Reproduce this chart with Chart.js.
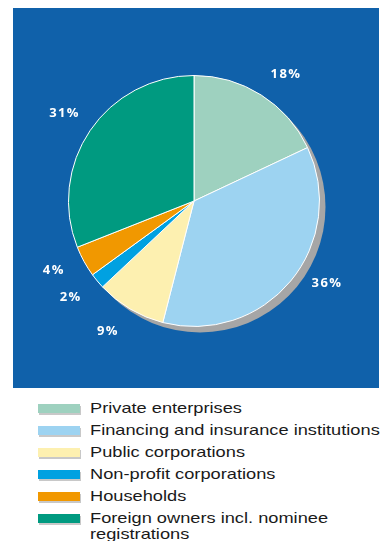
<!DOCTYPE html>
<html>
<head>
<meta charset="utf-8">
<script src="https://cdn.jsdelivr.net/npm/chart.js@4"></script>
<style>
  html, body { margin: 0; padding: 0; background: #fff; }
  body { width: 383px; height: 541px; position: relative; overflow: hidden; }
  #panel {
    position: absolute; left: 13px; top: 8px; width: 366px; height: 380px;
    background: #1061aa;
  }
  #legend {
    position: absolute; left: 38px; top: 400px; margin: 0; padding: 0;
    list-style: none; font-family: "Liberation Sans", Arial, sans-serif;
    font-size: 15px; color: #1a1a1a;
  }
  #legend li { position: relative; height: 22px; }
  #legend .sw {
    position: absolute; left: 0; top: 4px; width: 42px; height: 9px;
    box-shadow: 1px 2px 0 #c8c8c8;
  }
  #legend .txt {
    position: absolute; left: 52px; top: 0; white-space: nowrap;
    line-height: 16px; transform: scaleX(1.215); transform-origin: left top;
  }
</style>
</head>
<body>
<div id="panel"><canvas id="ownerChart" width="366" height="380"></canvas></div>
<ul id="legend"></ul>
<script>
const categories = [
  "Private enterprises",
  "Financing and insurance institutions",
  "Public corporations",
  "Non-profit corporations",
  "Households",
  "Foreign owners incl. nominee\nregistrations",
];
const shares = [18, 36, 9, 2, 4, 31];
const colors = ["#9ed1bf", "#9dd3f1", "#fdf0b0", "#00a1e1", "#f19800", "#009a80"];

// grey drop shadow under the pie
const pieShadow = {
  id: "pieShadow",
  beforeDatasetsDraw(chart) {
    const arc = chart.getDatasetMeta(0).data[0];
    if (!arc) return;
    const ctx = chart.ctx;
    ctx.save();
    ctx.fillStyle = "#a6a6a6";
    ctx.beginPath();
    ctx.arc(arc.x + 6, arc.y + 6, arc.outerRadius, 0, Math.PI * 2);
    ctx.fill();
    ctx.restore();
  },
};

// percent labels outside each slice
const sliceLabels = {
  id: "sliceLabels",
  afterDatasetsDraw(chart, args, opts) {
    const ctx = chart.ctx;
    const meta = chart.getDatasetMeta(0);
    ctx.save();
    ctx.fillStyle = "#fff";
    ctx.font = "700 13px 'Open Sans', sans-serif";
    ctx.letterSpacing = "1.4px";
    ctx.textAlign = "center";
    ctx.textBaseline = "middle";
    meta.data.forEach((arc, i) => {
      const shift = (opts.shift[i] || 0) * Math.PI / 180;
      const a = (arc.startAngle + arc.endAngle) / 2 + shift;
      const r = arc.outerRadius + opts.gap;
      ctx.fillText(shares[i] + "%", arc.x + Math.cos(a) * r, arc.y + Math.sin(a) * r);
    });
    ctx.restore();
  },
};

new Chart(document.getElementById("ownerChart"), {
  type: "pie",
  data: {
    labels: categories,
    datasets: [
      {
        data: shares,
        backgroundColor: colors,
        borderColor: "#fff",
        borderWidth: 1,
      },
    ],
  },
  options: {
    responsive: false,
    animation: false,
    layout: { padding: { left: 55, right: 59, top: 67, bottom: 61 } },
    plugins: {
      legend: { display: false },
      tooltip: { enabled: false },
      sliceLabels: { gap: 31, shift: [3.6, -7.8, 2.8, 1.6, 2.4, 0] },
    },
  },
  plugins: [pieShadow, sliceLabels],
});

const legend = document.getElementById("legend");
categories.forEach((name, i) => {
  const li = document.createElement("li");
  const sw = document.createElement("span");
  sw.className = "sw";
  sw.style.background = colors[i];
  const txt = document.createElement("span");
  txt.className = "txt";
  txt.innerText = name;
  li.appendChild(sw);
  li.appendChild(txt);
  legend.appendChild(li);
});
</script>
</body>
</html>
